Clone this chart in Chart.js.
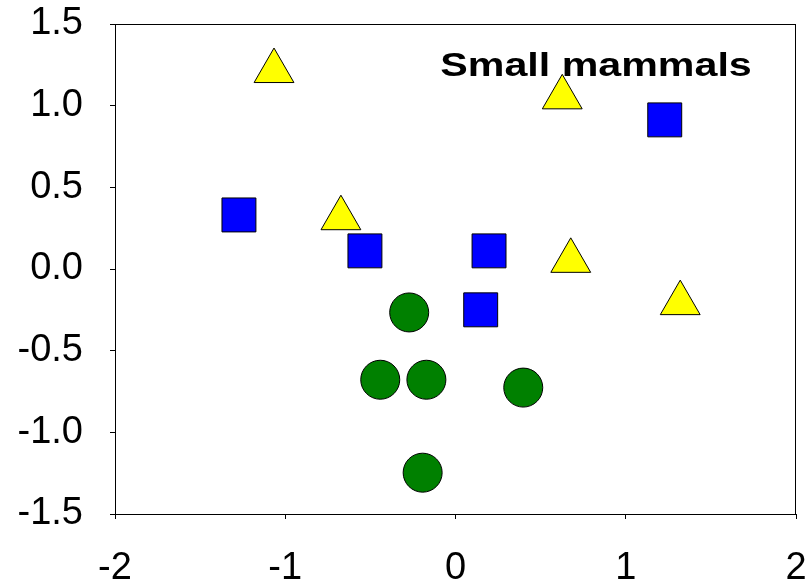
<!DOCTYPE html>
<html>
<head>
<meta charset="utf-8">
<script src="https://cdn.jsdelivr.net/npm/chart.js@4/dist/chart.umd.min.js"></script>
<style>
  html, body { margin: 0; padding: 0; background: #fff; }
  #wrap { width: 806px; height: 583px; position: relative; }
</style>
</head>
<body>
<div id="wrap"><canvas id="c" width="806" height="583"></canvas></div>
<script>
// ---- data ----
const triangleX = [-1.066, 0.627, -0.673, 0.677, 1.320];
const triangleY = [1.212, 1.051, 0.311, 0.050, -0.209];
const squareX = [1.229, -1.272, -0.532, 0.197, 0.148];
const squareY = [0.913, 0.331, 0.111, 0.111, -0.250];
const circleX = [-0.272, -0.442, -0.171, 0.398, -0.193];
const circleY = [-0.266, -0.678, -0.678, -0.726, -1.247];
const xTicks = [-2, -1, 0, 1, 2];
const yTicks = [-1.5, -1.0, -0.5, 0.0, 0.5, 1.0, 1.5];
const annotationText = "Small mammals";

function pts(xs, ys) { return xs.map((x, i) => ({ x: x, y: ys[i] })); }

const FONT = "'Liberation Sans', Arial, sans-serif";

const framePlugin = {
  id: 'frame',
  afterDraw(chart) {
    const { ctx, chartArea: a } = chart;
    ctx.save();
    ctx.strokeStyle = '#000';
    ctx.lineWidth = 1;
    ctx.strokeRect(Math.round(a.left) + 0.5, Math.round(a.top) + 0.5,
                   Math.round(a.right - a.left) - 1, Math.round(a.bottom - a.top));
    ctx.restore();
  }
};

const labelPlugin = {
  id: 'label',
  beforeDatasetsDraw(chart) {
    const { ctx, scales } = chart;
    const x0 = scales.x.getPixelForValue(-0.089);
    const x1 = scales.x.getPixelForValue(1.74);
    const yb = scales.y.getPixelForValue(1.182);
    ctx.save();
    ctx.font = "bold 34px " + FONT;
    ctx.fillStyle = '#000';
    ctx.textBaseline = 'alphabetic';
    ctx.textAlign = 'left';
    const w = ctx.measureText(annotationText).width;
    const sx = (x1 - x0) / w;
    ctx.translate(x0, yb);
    ctx.scale(sx, 1);
    ctx.fillText(annotationText, 0, 0);
    ctx.restore();
  }
};

const common = { borderColor: '#000', borderWidth: 1, hoverRadius: 0 };

new Chart(document.getElementById('c'), {
  type: 'scatter',
  data: {
    datasets: [
      Object.assign({ label: 'triangles', data: pts(triangleX, triangleY), pointStyle: 'triangle',
        pointRadius: 23, backgroundColor: '#FFFF00', pointBackgroundColor: '#FFFF00',
        pointBorderColor: '#000', pointBorderWidth: 1 }, common),
      Object.assign({ label: 'squares', data: pts(squareX, squareY), pointStyle: 'rect',
        pointRadius: 24, backgroundColor: '#0000FF', pointBackgroundColor: '#0000FF',
        pointBorderColor: '#000', pointBorderWidth: 1 }, common),
      Object.assign({ label: 'circles', data: pts(circleX, circleY), pointStyle: 'circle',
        pointRadius: 19.5, backgroundColor: '#008000', pointBackgroundColor: '#008000',
        pointBorderColor: '#000', pointBorderWidth: 1 }, common)
    ]
  },
  options: {
    responsive: false,
    animation: false,
    events: [],
    layout: { autoPadding: false, padding: { top: 24, right: 10, left: 0, bottom: 0 } },
    plugins: { legend: { display: false }, tooltip: { enabled: false } },
    scales: {
      x: {
        type: 'linear', min: -2, max: 2,
        afterBuildTicks: (s) => { s.ticks = xTicks.map(v => ({ value: v })); },
        afterFit: (s) => { s.height = 69; s.paddingLeft = 0; s.paddingRight = 0; s.paddingTop = 0; s.paddingBottom = 0; },
        grid: { drawOnChartArea: false, drawTicks: true, tickLength: 5, color: '#000', tickColor: '#000' },
        border: { display: true, color: '#000', width: 1 },
        ticks: { color: '#000', font: { family: FONT, size: 38 }, padding: 27, maxRotation: 0,
          callback: (v) => String(v) }
      },
      y: {
        type: 'linear', min: -1.5, max: 1.5,
        afterBuildTicks: (s) => { s.ticks = yTicks.map(v => ({ value: v })); },
        afterFit: (s) => { s.width = 115; s.paddingLeft = 0; s.paddingRight = 0; s.paddingTop = 0; s.paddingBottom = 0; },
        grid: { drawOnChartArea: false, drawTicks: true, tickLength: 5, color: '#000', tickColor: '#000' },
        border: { display: true, color: '#000', width: 1 },
        ticks: { color: '#000', font: { family: FONT, size: 38 }, padding: 27,
          callback: (v) => Number(v).toFixed(1) }
      }
    }
  },
  plugins: [labelPlugin, framePlugin]
});
</script>
</body>
</html>
